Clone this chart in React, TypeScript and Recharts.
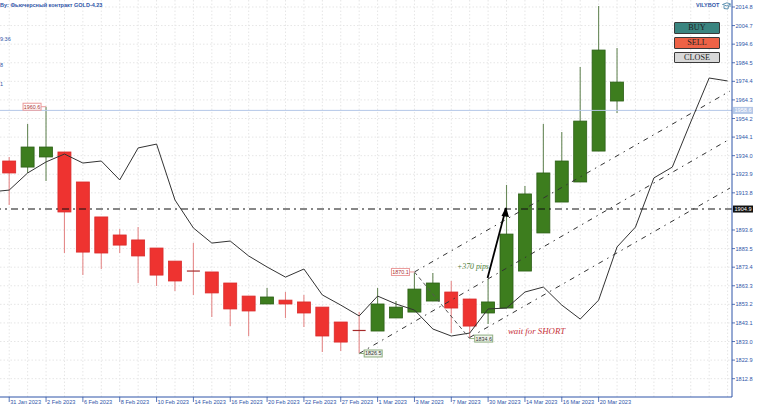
import React from "react";
import { ComposedChart, Bar, Line, XAxis, YAxis, CartesianGrid, ReferenceLine, ReferenceDot } from "recharts";

const W = 758, H = 409;

// candles: open, high, low, close
const opens = [1931.1, 1927.8, 1933.3, 1936.0, 1919.7, 1900.7, 1890.9, 1888.2, 1883.8, 1876.7, 1871.3, 1870.8, 1864.8, 1857.7, 1853.4, 1855.5, 1854.5, 1851.7, 1843.6, 1839.0, 1838.7, 1845.8, 1849.0, 1855.0, 1859.9, 1856.1, 1848.5, 1851.2, 1871.3, 1892.0, 1908.8, 1919.7, 1936.5, 1963.7];
const highs = [1933.3, 1951.2, 1960.6, 1936.0, 1919.7, 1900.7, 1894.1, 1895.2, 1883.8, 1876.7, 1886.5, 1870.8, 1864.8, 1857.7, 1862.1, 1859.9, 1858.3, 1851.7, 1843.6, 1849.0, 1862.1, 1855.0, 1870.2, 1870.2, 1865.9, 1856.1, 1867.0, 1918.1, 1917.5, 1951.2, 1946.9, 1982.2, 2015.3, 1992.5];
const lows = [1907.2, 1924.6, 1920.2, 1881.1, 1869.1, 1872.4, 1881.1, 1864.8, 1863.2, 1860.4, 1858.3, 1846.3, 1841.4, 1836.0, 1853.4, 1845.8, 1840.9, 1827.3, 1827.8, 1826.5, 1838.7, 1845.8, 1849.0, 1855.0, 1837.6, 1834.6, 1842.5, 1851.2, 1871.3, 1892.0, 1908.8, 1919.7, 1936.5, 1957.2];
const closes = [1924.6, 1938.7, 1938.7, 1903.4, 1881.6, 1881.1, 1885.4, 1879.5, 1869.1, 1865.9, 1870.8, 1859.4, 1850.7, 1849.6, 1857.2, 1853.4, 1848.5, 1836.0, 1832.7, 1838.4, 1853.4, 1851.7, 1861.5, 1864.8, 1851.2, 1841.4, 1854.5, 1891.4, 1913.2, 1924.6, 1931.1, 1952.8, 1991.4, 1974.0];
// lagging line, from index -1 to 39
const lagging = [1914.3, 1915.3, 1924.6, 1930.6, 1934.9, 1930.0, 1931.1, 1920.8, 1938.2, 1940.3, 1909.9, 1894.7, 1886.5, 1887.6, 1879.5, 1873.5, 1868.0, 1872.4, 1858.3, 1852.8, 1846.9, 1857.7, 1853.4, 1850.1, 1839.8, 1836.0, 1837.6, 1850.7, 1851.2, 1859.9, 1862.6, 1852.8, 1845.2, 1855.5, 1884.4, 1895.2, 1921.9, 1927.8, 1952.3, 1976.2, 1974.6];

const dateTicks = [0, 2, 4, 6, 8, 10, 12, 14, 16, 18, 20, 22, 24, 26, 28, 30, 32];
const dateLabels = ["31 Jan 2023", "2 Feb 2023", "6 Feb 2023", "8 Feb 2023", "10 Feb 2023", "14 Feb 2023", "16 Feb 2023", "20 Feb 2023", "22 Feb 2023", "27 Feb 2023", "1 Mar 2023", "3 Mar 2023", "7 Mar 2023", "30 Mar 2023", "14 Mar 2023", "16 Mar 2023", "20 Mar 2023"];
const priceTicks = [2014.8, 2004.7, 1994.6, 1984.5, 1974.4, 1964.3, 1954.2, 1944.1, 1934.0, 1923.9, 1913.8, 1893.6, 1883.5, 1873.4, 1863.3, 1853.2, 1843.1, 1833.0, 1822.9, 1812.8];
const gridColumns = lagging.map((_, k) => k - 1).filter((k) => k >= 0);

const upperChannel = [{ i: 22, v: 1870.8 }, { i: 39.13, v: 1969.1 }];
const middleChannel = [{ i: 19, v: 1826.5 }, { i: 39.13, v: 1943.1 }];
const lowerChannel = [{ i: 25, v: 1835.2 }, { i: 39.13, v: 1916.4 }];
const diagonal = [{ i: 22, v: 1870.8 }, { i: 25, v: 1834.6 }];
const arrow = [{ i: 25.97, v: 1867.5 }, { i: 26.97, v: 1905.5 }];

const BLUE = "#2f55a8";
const PLOT_W = 732, PLOT_H = 397;
const X_MIN = -0.5, X_MAX = 39.24;
const Y_MIN = 1802.85, Y_MAX = 2018.6;

const rows = lagging.map((lag, k) => {
  const c = k - 1;
  const base: any = { i: c, lag };
  if (c >= 0 && c < opens.length) {
    base.open = opens[c];
    base.close = closes[c];
    base.high = highs[c];
    base.low = lows[c];
    base.range = [lows[c], highs[c]];
  }
  return base;
});

function Candle(props: any) {
  const { x, y, width, height, payload } = props;
  if (payload.high === undefined) return null;
  const perUnit = height / (payload.high - payload.low);
  const at = (p: number) => y + (payload.high - p) * perUnit;
  const cx = x + width / 2;
  const up = payload.close >= payload.open;
  const top = at(Math.max(payload.open, payload.close));
  const bottom = at(Math.min(payload.open, payload.close));
  const fill = up ? "#3d7d1e" : "#ee3330";
  const edge = up ? "#2c5f16" : "#d92b2b";
  const wick = up ? "#69895a" : "#e58a8a";
  return (
    <g>
      <line x1={cx} x2={cx} y1={y} y2={y + height} stroke={wick} strokeWidth={1.1} />
      {bottom - top < 2 ? (
        <line x1={cx - 6.5} x2={cx + 6.5} y1={top} y2={top} stroke={up ? "#1d3d10" : "#a52a2a"} strokeWidth={1.2} />
      ) : (
        <rect x={cx - 6.5} y={top} width={13} height={bottom - top} fill={fill} stroke={edge} strokeWidth={0.8} />
      )}
    </g>
  );
}

function DateTick({ x, y, index }: any) {
  return (
    <g>
      <line x1={x} x2={x} y1={y} y2={y + 5} stroke={BLUE} strokeWidth={0.8} />
      <text x={x + 1} y={y + 7} fontSize={5.6} fontFamily="'Liberation Sans', sans-serif" fill={BLUE}>
        {dateLabels[index]}
      </text>
    </g>
  );
}

function PriceTick({ x, y, payload }: any) {
  return (
    <g>
      <line x1={x} x2={x + 3} y1={y} y2={y} stroke={BLUE} strokeWidth={0.8} />
      <text x={x + 3.5} y={y + 2} fontSize={5.6} fontFamily="'Liberation Sans', sans-serif" fill={BLUE}>
        {payload.value.toFixed(1)}
      </text>
    </g>
  );
}

function Tag({ cx, cy, text, color, bg, side, textColor = "#333", w = 18, gap = 5 }: any) {
  const x = side === "left" ? cx - w - gap : cx + gap;
  const near = side === "left" ? cx - gap : cx + gap;
  return (
    <g>
      <line x1={cx} x2={near} y1={cy} y2={cy} stroke={color} strokeWidth={1} />
      <rect x={x} y={cy - 3.5} width={w} height={7} fill={bg} stroke={color} strokeWidth={1} />
      <text x={x + w / 2} y={cy + 2} textAnchor="middle" fontSize={5.4} fontFamily="'Liberation Sans', sans-serif" fill={textColor}>
        {text}
      </text>
    </g>
  );
}

function AxisBadge({ cx, cy, text, fill, color }: any) {
  return (
    <g>
      <rect x={cx + 1} y={cy - 3.5} width={20} height={7} fill={fill} />
      <text x={cx + 11} y={cy + 2} textAnchor="middle" fontSize={5.6} fontFamily="'Liberation Sans', sans-serif" fill={color}>
        {text}
      </text>
    </g>
  );
}

function ArrowHead(props: any) {
  const { cx, cy, index } = props;
  if (index !== 1) return <g key={index} />;
  return <polygon key={index} points={`${cx},${cy - 1} ${cx - 4.5},${cy + 8} ${cx + 3},${cy + 9}`} fill="#000" />;
}

function Button({ top, h, bg, label }: { top: number; h: number; bg: string; label: string }) {
  return (
    <div
      style={{
        position: "absolute", left: 674, top, width: 46, height: h, background: bg,
        border: "1px solid #3a3a3a", borderBottomWidth: 1.5, borderRadius: 1, boxSizing: "border-box", textAlign: "center",
        fontFamily: "'Liberation Serif', serif", fontSize: 8.2, lineHeight: `${h - 2}px`, color: "#222",
      }}
    >
      {label}
    </div>
  );
}

const corner: React.CSSProperties = {
  position: "absolute", fontFamily: "'Liberation Sans', sans-serif", fontSize: 5.5, fontWeight: 600, color: BLUE, lineHeight: "8px", whiteSpace: "nowrap",
};

export default function App() {
  const dash = { stroke: "#333", strokeWidth: 1, strokeDasharray: "5 5 1.5 5", dot: false, activeDot: false, isAnimationActive: false, legendType: "none" as const };
  return (
    <div style={{ position: "absolute", left: 0, top: 0, width: W, height: H, background: "#fff", overflow: "hidden" }}>
      <ComposedChart width={W} height={H} data={rows} margin={{ top: 0, right: 0, bottom: 0, left: 0 }}>
        <CartesianGrid stroke="#e6e6e6" strokeDasharray="1.5 2" verticalValues={gridColumns} horizontalValues={priceTicks} />
        <XAxis
          dataKey="i"
          type="number"
          domain={[X_MIN, X_MAX]}
          allowDataOverflow
          ticks={dateTicks}
          interval={0}
          height={H - PLOT_H}
          axisLine={{ stroke: BLUE, strokeWidth: 1 }}
          tickLine={false}
          tickSize={0}
          tickMargin={0}
          tick={(p: any) => <DateTick {...p} />}
        />
        <YAxis
          orientation="right"
          type="number"
          domain={[Y_MIN, Y_MAX]}
          allowDataOverflow
          ticks={priceTicks}
          interval={0}
          width={W - PLOT_W}
          axisLine={{ stroke: BLUE, strokeWidth: 1 }}
          tickLine={false}
          tickSize={0}
          tickMargin={0}
          tick={(p: any) => <PriceTick {...p} />}
        />
        <ReferenceLine y={1958.6} stroke="#b5c8e8" strokeWidth={1} />
        <ReferenceLine y={1905} stroke="#111" strokeWidth={1.1} strokeDasharray="7 4 2 4" />
        <Bar dataKey="range" barSize={13} isAnimationActive={false} shape={(p: any) => <Candle {...p} />} />
        <Line dataKey="lag" stroke="#333" strokeWidth={1} dot={false} activeDot={false} isAnimationActive={false} />
        <Line data={upperChannel} dataKey="v" {...dash} />
        <Line data={middleChannel} dataKey="v" {...dash} />
        <Line data={lowerChannel} dataKey="v" {...dash} />
        <Line data={diagonal} dataKey="v" {...dash} strokeDasharray="4 3" stroke="#555" />
        <Line data={arrow} dataKey="v" stroke="#000" strokeWidth={1.8} activeDot={false} isAnimationActive={false} dot={(p: any) => <ArrowHead {...p} />} />
        <ReferenceDot x={2} y={1960.6} r={0} shape={(p: any) => <Tag {...p} text="1960.6" color="#eb9a9a" bg="#fff" textColor="#a33" side="left" />} />
        <ReferenceDot x={22} y={1870.8} r={0} shape={(p: any) => <Tag {...p} text="1870.1" color="#eb9a9a" bg="#fff" textColor="#a33" side="left" />} />
        <ReferenceDot x={19} y={1826.5} r={0} shape={(p: any) => <Tag {...p} text="1826.5" color="#8fae80" bg="#eef3ea" side="right" />} />
        <ReferenceDot x={25} y={1834.6} r={0} shape={(p: any) => <Tag {...p} text="1834.6" color="#8fae80" bg="#eef3ea" side="right" />} />
        <ReferenceDot x={X_MAX} y={1958.6} r={0} shape={(p: any) => <AxisBadge {...p} text="1958.6" fill="#b5c8e8" color="#fff" />} />
        <ReferenceDot x={X_MAX} y={1905} r={0} shape={(p: any) => <AxisBadge {...p} text="1904.9" fill="#111" color="#fff" />} />
      </ComposedChart>

      <div style={{ ...corner, left: 0, top: 1 }}>By: Фьючерсный контракт GOLD-4.23</div>
      <div style={{ ...corner, left: 0, top: 35, fontWeight: 400 }}>9:36</div>
      <div style={{ ...corner, left: 0, top: 61, fontWeight: 400 }}>8</div>
      <div style={{ ...corner, left: 0, top: 80, fontWeight: 400 }}>1</div>
      <div style={{ ...corner, left: 696, top: 1 }}>VILYBOT</div>
      <svg style={{ position: "absolute", left: 722, top: 2 }} width={9} height={8}>
        <path d="M0.5 2.5 L5 0.8 L8.5 2 L5 4 Z M2 4 L2 6.5 L6 7 L6.5 4 M8 2 L8 5" fill="none" stroke="#4f86a8" strokeWidth={0.9} />
      </svg>
      <div style={{ ...corner, left: 457, top: 263, fontFamily: "'Liberation Serif', serif", fontStyle: "italic", fontWeight: 400, fontSize: 7.8, color: "#4f7f3a" }}>+370 pips</div>
      <div style={{ ...corner, left: 508, top: 327, fontFamily: "'Liberation Serif', serif", fontStyle: "italic", fontWeight: 400, fontSize: 8.8, color: "#c8323a" }}>wait for SHORT</div>
      <Button top={22} h={12} bg="#3a8580" label="BUY" />
      <Button top={37} h={12} bg="#ee6246" label="SELL" />
      <Button top={51.5} h={11} bg="#d8d8d8" label="CLOSE" />
    </div>
  );
}
